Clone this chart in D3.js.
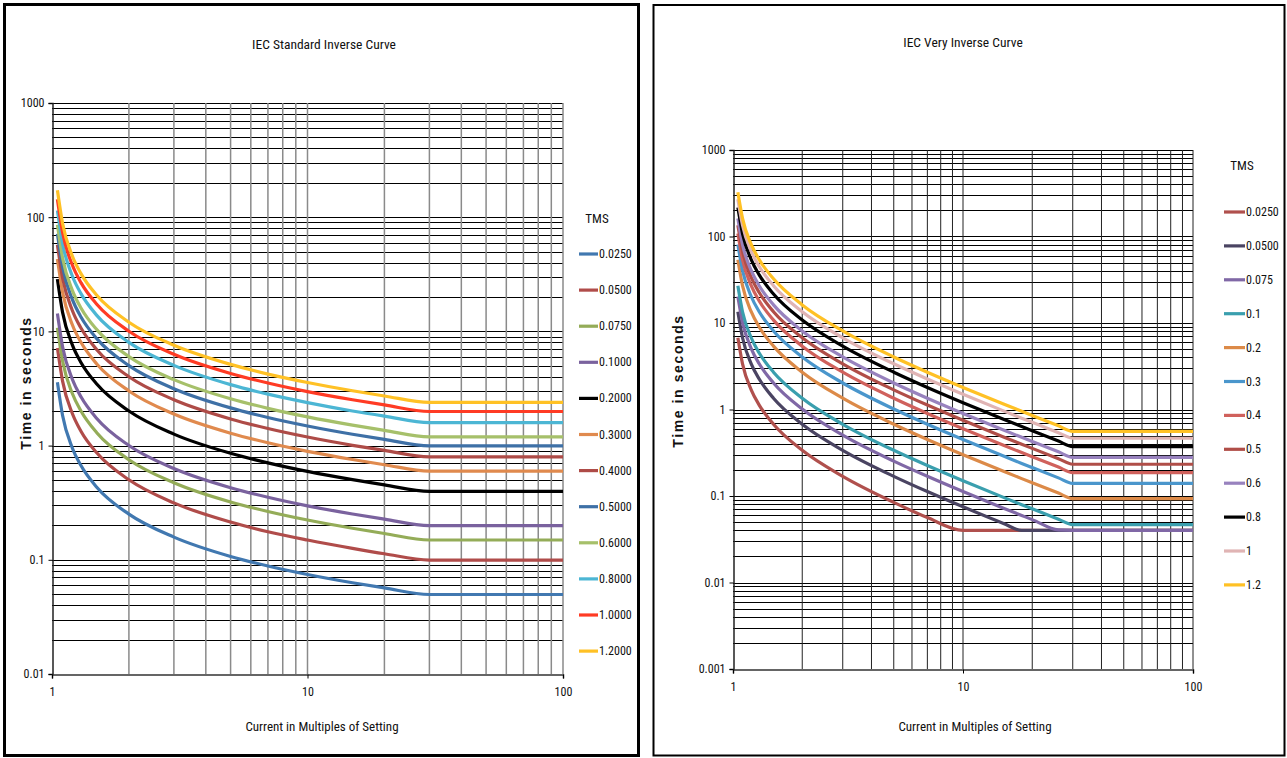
<!DOCTYPE html>
<html>
<head>
<meta charset="utf-8">
<script src="https://cdn.jsdelivr.net/npm/d3@7"></script>
<style>
  body { margin: 0; background: #fff; }
  svg text { font-family: "Liberation Sans Narrow", "Arial Narrow", "Roboto Condensed", sans-serif; fill: #111; }
  svg text.ytitle { font-family: "Liberation Sans", Arial, sans-serif; font-weight: bold; font-size: 14px; letter-spacing: 1.6px; }
</style>
</head>
<body>
<svg width="1287" height="758"></svg>
<script>
// ---- IEC Standard Inverse (left) ----
const stdCurrent = [1.05, 1.1, 1.2, 1.3, 1.5, 2, 3, 5, 7, 10, 15, 20, 30, 100];
const stdTms = ["0.0250", "0.0500", "0.0750", "0.1000", "0.2000", "0.3000",
                "0.4000", "0.5000", "0.6000", "0.8000", "1.0000", "1.2000"];
const stdTimes = [
  [3.585, 1.835, 0.958, 0.665, 0.430, 0.251, 0.158, 0.107, 0.0882, 0.0743, 0.0629, 0.0567, 0.0497, 0.0497],
  [7.17, 3.67, 1.92, 1.33, 0.860, 0.502, 0.315, 0.214, 0.176, 0.149, 0.126, 0.113, 0.0995, 0.0995],
  [10.76, 5.50, 2.87, 2.00, 1.29, 0.752, 0.473, 0.321, 0.265, 0.223, 0.189, 0.170, 0.149, 0.149],
  [14.34, 7.34, 3.83, 2.66, 1.72, 1.003, 0.630, 0.428, 0.353, 0.297, 0.252, 0.227, 0.199, 0.199],
  [28.7, 14.68, 7.66, 5.32, 3.44, 2.01, 1.26, 0.856, 0.706, 0.594, 0.503, 0.453, 0.398, 0.398],
  [43.0, 22.0, 11.50, 7.98, 5.16, 3.01, 1.89, 1.284, 1.058, 0.891, 0.755, 0.680, 0.597, 0.597],
  [57.4, 29.4, 15.33, 10.64, 6.88, 4.01, 2.52, 1.712, 1.411, 1.188, 1.006, 0.907, 0.796, 0.796],
  [71.7, 36.7, 19.16, 13.31, 8.60, 5.02, 3.15, 2.14, 1.764, 1.486, 1.258, 1.134, 0.995, 0.995],
  [86.0, 44.0, 23.0, 15.97, 10.31, 6.02, 3.78, 2.57, 2.12, 1.783, 1.510, 1.360, 1.193, 1.193],
  [114.7, 58.7, 30.7, 21.3, 13.75, 8.02, 5.04, 3.42, 2.82, 2.38, 2.01, 1.814, 1.591, 1.591],
  [143.4, 73.4, 38.3, 26.6, 17.19, 10.03, 6.30, 4.28, 3.53, 2.97, 2.52, 2.27, 1.989, 1.989],
  [172.1, 88.1, 46.0, 31.9, 20.6, 12.04, 7.56, 5.14, 4.23, 3.57, 3.02, 2.72, 2.39, 2.39]
];
const stdColors = ["#4178b0", "#b04c4a", "#94ac58", "#7a629e", "#000000", "#e08a4e",
                   "#ae4b47", "#3e70a6", "#a6c06a", "#4cb6d4", "#ff3b24", "#ffc125"];

// ---- IEC Very Inverse (right) ----
const viCurrent = [1.05, 1.1, 1.2, 1.3, 1.5, 2, 3, 5, 7, 10, 15, 18, 20, 26, 30, 100];
const viTms = ["0.0250", "0.0500", "0.075", "0.1", "0.2", "0.3",
               "0.4", "0.5", "0.6", "0.8", "1", "1.2"];
const viTimes = [
  [6.75, 3.375, 1.688, 1.125, 0.675, 0.3375, 0.1688, 0.0844, 0.0563, 0.04, 0.04, 0.04, 0.04, 0.04, 0.04, 0.04],
  [13.5, 6.75, 3.375, 2.25, 1.35, 0.675, 0.3375, 0.1688, 0.1125, 0.075, 0.0482, 0.04, 0.04, 0.04, 0.04, 0.04],
  [20.25, 10.13, 5.063, 3.375, 2.025, 1.013, 0.5063, 0.2531, 0.1688, 0.1125, 0.0723, 0.0596, 0.0533, 0.0405, 0.04, 0.04],
  [27, 13.5, 6.75, 4.5, 2.7, 1.35, 0.675, 0.3375, 0.225, 0.15, 0.0964, 0.0794, 0.0711, 0.054, 0.0466, 0.0466],
  [54, 27, 13.5, 9, 5.4, 2.7, 1.35, 0.675, 0.45, 0.3, 0.1929, 0.1588, 0.1421, 0.108, 0.0931, 0.0931],
  [81, 40.5, 20.25, 13.5, 8.1, 4.05, 2.025, 1.013, 0.675, 0.45, 0.2893, 0.2382, 0.2132, 0.162, 0.1397, 0.1397],
  [108, 54, 27, 18, 10.8, 5.4, 2.7, 1.35, 0.9, 0.6, 0.3857, 0.3176, 0.2842, 0.216, 0.1862, 0.1862],
  [135, 67.5, 33.75, 22.5, 13.5, 6.75, 3.375, 1.688, 1.125, 0.75, 0.4821, 0.3971, 0.3553, 0.27, 0.2328, 0.2328],
  [162, 81, 40.5, 27, 16.2, 8.1, 4.05, 2.025, 1.35, 0.9, 0.5786, 0.4765, 0.4263, 0.324, 0.2793, 0.2793],
  [216, 108, 54, 36, 21.6, 10.8, 5.4, 2.7, 1.8, 1.2, 0.7714, 0.6353, 0.5684, 0.432, 0.3724, 0.3724],
  [270, 135, 67.5, 45, 27, 13.5, 6.75, 3.375, 2.25, 1.5, 0.9643, 0.7941, 0.7105, 0.54, 0.4655, 0.4655],
  [324, 162, 81, 54, 32.4, 16.2, 8.1, 4.05, 2.7, 1.8, 1.157, 0.9529, 0.8526, 0.648, 0.5586, 0.5586]
];
const viColors = ["#b0504d", "#4a4462", "#8068a6", "#3a9fae", "#dc8a48", "#4a96cc",
                  "#d0615c", "#b04e48", "#9882be", "#000000", "#e0b4b4", "#ffc125"];

const xTicks = [1, 10, 100];
const stdYTicks = [0.01, 0.1, 1, 10, 100, 1000];
const viYTicks = [0.001, 0.01, 0.1, 1, 10, 100, 1000];

const svg = d3.select("svg");

function drawChart(o) {
  const g = svg.append("g");

  g.append("rect")
    .attr("x", o.box[0]).attr("y", o.box[1])
    .attr("width", o.box[2]).attr("height", o.box[3])
    .attr("fill", "#fff").attr("stroke", "#000").attr("stroke-width", o.boxStroke);

  const x = d3.scaleLog().domain([1, 100]).range([o.left, o.right]);
  const y = d3.scaleLog().domain([o.yTicks[0], o.yTicks[o.yTicks.length - 1]]).range([o.bottom, o.top]);

  // minor + major grid values
  const xGrid = [];
  for (let e = 0; e < 2; e++) for (let k = 2; k <= 10; k++) xGrid.push(k * Math.pow(10, e));
  const yGrid = [];
  for (let i = 0; i < o.yTicks.length - 1; i++) for (let k = 2; k <= 10; k++) yGrid.push(k * o.yTicks[i]);

  g.append("g").selectAll("line").data(yGrid).join("line")
    .attr("x1", o.left).attr("x2", o.right)
    .attr("y1", d => Math.round(y(d)) + 0.5).attr("y2", d => Math.round(y(d)) + 0.5)
    .attr("stroke", "#000").attr("stroke-width", 1);

  g.append("g").selectAll("line").data(xGrid).join("line")
    .attr("x1", d => x(d)).attr("x2", d => x(d))
    .attr("y1", o.top).attr("y2", o.bottom)
    .attr("stroke", o.vColor).attr("stroke-width", o.vWidth);

  const yAxis = g.append("g")
    .attr("transform", `translate(${Math.round(o.left) + 0.5},0)`)
    .call(d3.axisLeft(y).tickValues(o.yTicks).tickSize(4).tickPadding(4)
      .tickFormat(d => String(d)));
  yAxis.select(".domain").attr("stroke", "#222").attr("stroke-width", 1.5);
  yAxis.selectAll("text").attr("font-size", 12).attr("font-family", null);

  const xAxis = g.append("g")
    .attr("transform", `translate(0,${Math.round(o.bottom) + 0.5})`)
    .call(d3.axisBottom(x).tickValues(xTicks).tickSize(4).tickPadding(9)
      .tickFormat(d3.format("d")));
  xAxis.select(".domain").attr("stroke", "#333").attr("stroke-width", 1.5);
  xAxis.selectAll("text").attr("font-size", 12).attr("font-family", null);

  const line = d3.line()
    .x((d, i) => x(o.current[i]))
    .y(d => y(d))
    .curve(d3.curveMonotoneX);

  g.append("g").selectAll("path").data(o.times).join("path")
    .attr("d", line)
    .attr("fill", "none")
    .attr("stroke", (d, i) => o.colors[i])
    .attr("stroke-width", 3.2)
    .attr("stroke-linejoin", "round");

  g.append("text")
    .attr("x", o.titleX).attr("y", o.titleY)
    .attr("text-anchor", "middle").attr("font-size", 13.5)
    .text(o.title);

  g.append("text")
    .attr("x", o.xTitleX).attr("y", 731)
    .attr("text-anchor", "middle").attr("font-size", 13)
    .text("Current in Multiples of Setting");

  g.append("text")
    .attr("class", "ytitle")
    .attr("transform", `translate(${o.yTitleX},${o.yTitleY}) rotate(-90)`)
    .attr("text-anchor", "middle")
    .text("Time in seconds");

  // legend
  const lg = g.append("g");
  lg.append("text")
    .attr("x", o.legX + 18).attr("y", o.legTitleY + 5)
    .attr("text-anchor", "middle").attr("font-size", 13)
    .text("TMS");
  const items = lg.selectAll("g.item").data(o.labels).join("g")
    .attr("class", "item")
    .attr("transform", (d, i) => `translate(${o.legX},${o.legY0 + i * o.legStep})`);
  items.append("line")
    .attr("x1", 0).attr("x2", o.legLen).attr("y1", 0).attr("y2", 0)
    .attr("stroke", (d, i) => o.colors[i]).attr("stroke-width", 3.2);
  items.append("text")
    .attr("x", o.legLen + 1).attr("y", 4)
    .attr("font-size", 12)
    .text(d => d);
}

drawChart({
  box: [4.5, 4.5, 634, 751], boxStroke: 3,
  left: 52, right: 563, top: 103, bottom: 674,
  yTicks: stdYTicks, vColor: "#8a8a8a", vWidth: 1.5,
  current: stdCurrent, times: stdTimes, colors: stdColors, labels: stdTms,
  title: "IEC Standard Inverse Curve", titleX: 324, titleY: 49,
  xTitleX: 322, yTitleX: 31, yTitleY: 383,
  legX: 579, legTitleY: 218, legY0: 254, legStep: 36.1, legLen: 19
});

drawChart({
  box: [653.5, 5, 631, 750.5], boxStroke: 2,
  left: 733, right: 1193, top: 150, bottom: 669,
  yTicks: viYTicks, vColor: "#222", vWidth: 1,
  current: viCurrent, times: viTimes, colors: viColors, labels: viTms,
  title: "IEC Very Inverse Curve", titleX: 963, titleY: 47,
  xTitleX: 975, yTitleX: 683, yTitleY: 381,
  legX: 1224, legTitleY: 165, legY0: 212, legStep: 33.9, legLen: 21
});
</script>
</body>
</html>
